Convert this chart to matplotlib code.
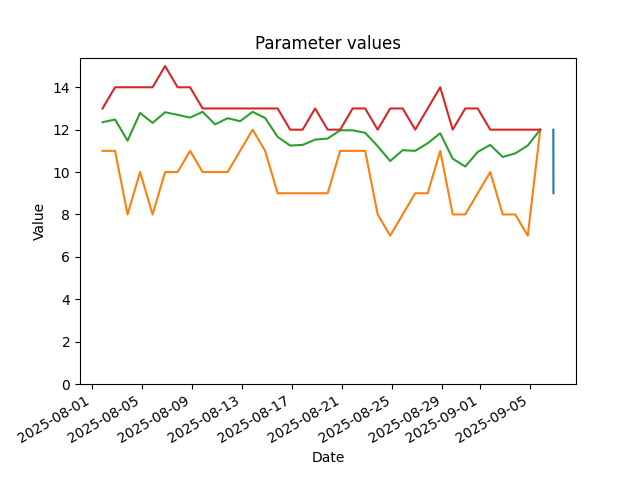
import matplotlib
matplotlib.use("Agg")
import matplotlib.pyplot as plt
import pandas as pd

dates = pd.date_range("2025-08-01 20:00", periods=36, freq="D")

max_values = [13, 14, 14, 14, 14, 15, 14, 14, 13, 13, 13, 13, 13, 13, 13, 12,
              12, 13, 12, 12, 13, 13, 12, 13, 13, 12, 13, 14, 12, 13, 13, 12,
              12, 12, 12, 12]
min_values = [11, 11, 8, 10, 8, 10, 10, 11, 10, 10, 10, 11, 12, 11, 9, 9,
              9, 9, 9, 11, 11, 11, 8, 7, 8, 9, 9, 11, 8, 8, 9, 10,
              8, 8, 7, 12]
mean_values = [12.35, 12.48, 11.48, 12.79, 12.32, 12.82, 12.70, 12.57, 12.84,
               12.25, 12.54, 12.40, 12.84, 12.55, 11.66, 11.25, 11.28, 11.53,
               11.58, 11.97, 11.97, 11.85, 11.22, 10.52, 11.03, 11.00, 11.36,
               11.83, 10.63, 10.26, 10.95, 11.28, 10.71, 10.88, 11.25, 12.00]

raw_times = pd.to_datetime(["2025-09-06 21:10", "2025-09-06 21:10", "2025-09-06 21:20"])
raw_values = [12, 11, 9]

fig, ax = plt.subplots(figsize=(6.4, 4.8), dpi=100)
ax.plot(raw_times, raw_values, color="C0")
ax.plot(dates, min_values, color="C1")
ax.plot(dates, mean_values, color="C2")
ax.plot(dates, max_values, color="C3")
ax.set_ylim(bottom=0)
ax.set_title("Parameter values")
ax.set_xlabel("Date")
ax.set_ylabel("Value")
fig.autofmt_xdate()
fig.savefig("out.png", dpi=100)
